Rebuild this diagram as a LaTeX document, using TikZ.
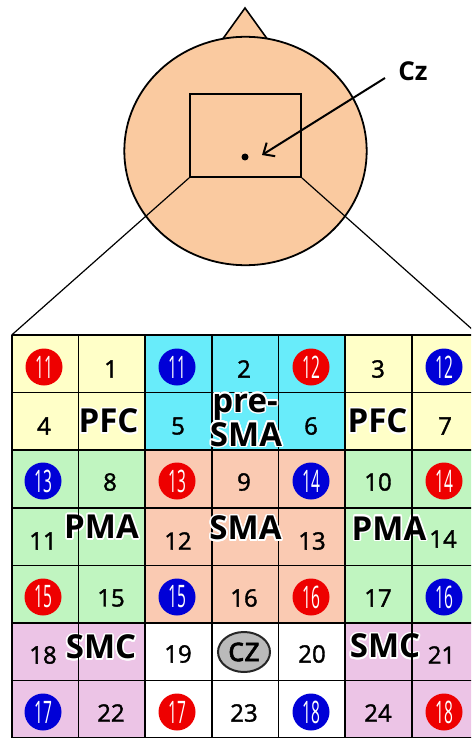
\documentclass[tikz,border=0pt]{standalone}
\usepackage{fontspec}
\setmainfont{Open Sans}
\newfontfamily\numfont{Open Sans}[FakeBold=1.6]
\usepackage{graphicx}
\usepackage{contour}
\contourlength{1.6pt}
\usetikzlibrary{arrows.meta,shapes.geometric}

\definecolor{skin}{RGB}{250,202,160}
\definecolor{topout}{RGB}{255,255,200}
\definecolor{topin}{RGB}{104,236,250}
\definecolor{midout}{RGB}{192,245,192}
\definecolor{midin}{RGB}{250,202,178}
\definecolor{botout}{RGB}{236,196,230}
\definecolor{botin}{RGB}{255,255,255}
\definecolor{elecred}{RGB}{238,0,0}
\definecolor{elecblue}{RGB}{0,0,215}

\tikzset{
  outline/.style={draw=black, line width=1.8pt},
  gridline/.style={draw=black, line width=1.7pt},
  zoomline/.style={draw=black, line width=1.2pt},
  num/.style={inner sep=0pt, font=\fontsize{24}{24}\numfont},
  region/.style={inner sep=0pt, font=\fontsize{33}{33}\selectfont\bfseries},
  bubble/.style={circle, minimum size=37pt, inner sep=0pt, text=white,
                 font=\fontsize{31}{31}\selectfont},
  redb/.style={bubble, fill=elecred},
  blueb/.style={bubble, fill=elecblue},
  czmark/.style={ellipse, minimum width=52pt, minimum height=40pt, inner sep=0pt,
                 fill=black!27, draw=black!85, line width=2pt,
                 font=\fontsize{34}{34}\numfont},
}
\newcommand{\narrow}[1]{\scalebox{0.5}[1]{#1}}
\newcommand{\halo}[1]{\contour{white}{#1}}

\begin{document}
\begin{tikzpicture}[x=1pt,y=-1pt]
\useasboundingbox (0,0) rectangle (471,738);
\clip (0,0) rectangle (471,738);

% ---- head seen from above ----
\path[fill=skin] (222,40) -- (245,8) -- (268,40) -- cycle;
\draw[line width=1.6pt] (222,40) -- (245,8) -- (268,40);
\draw[outline, fill=skin] (245.5,151) ellipse [x radius=121.2, y radius=114.2];
\node[outline, minimum width=111pt, minimum height=83pt, inner sep=0pt] (zone) at (245.5,135.5) {};
\node[circle, fill=black, minimum size=7pt, inner sep=0pt] (dot) at (245,157) {};
\node[inner sep=0pt, font=\fontsize{26}{26}\selectfont\bfseries] (czlabel) at (413,71) {Cz};
\coordinate (tail) at (385,78);
\coordinate (tip) at (262,155);
\draw[line width=2pt, -{Straight Barb[length=9pt, width=16pt, line width=2pt]}] (tail) -- (tip);

% ---- grid of electrode positions ----
\coordinate (gridNW) at (11.7,335);
\coordinate (gridNE) at (478.6,335);
\draw[zoomline] (zone.south west) -- (gridNW);
\draw[zoomline] (zone.south east) -- (gridNE);

\foreach \r in {1,...,7}{
  \foreach \c in {1,...,7}{
    \ifnum\r<3 \def\band{top}\else\ifnum\r<6 \def\band{mid}\else\def\band{bot}\fi\fi
    \ifnum\c>2 \ifnum\c<6 \def\side{in}\else\def\side{out}\fi\else\def\side{out}\fi
    \path[fill=\band\side] ({11.7+(\c-1)*66.7},{335+(\r-1)*57.6}) rectangle ({11.7+\c*66.7},{335+\r*57.6});
  }
}
\foreach \i in {0,...,7}{
  \draw[gridline] ({11.7+\i*66.7},335) -- ({11.7+\i*66.7},740);
  \draw[gridline] (11.7,{335+\i*57.6}) -- (480,{335+\i*57.6});
}

% row 1
\node[redb]  (b-r11) at (44,367)  {\narrow{11}};
\node[num]   (n1)    at (111,369) {1};
\node[blueb] (b-b11) at (177,367) {\narrow{11}};
\node[num]   (n2)    at (244,369) {2};
\node[redb]  (b-r12) at (311,367) {\narrow{12}};
\node[num]   (n3)    at (378,369) {3};
\node[blueb] (b-b12) at (444,367) {\narrow{12}};
% row 2
\node[num]   (n4)    at (44,426)  {4};
\node[num]   (n5)    at (178,426) {5};
\node[num]   (n6)    at (311,426) {6};
\node[num]   (n7)    at (445,426) {7};
% row 3
\node[blueb] (b-b13) at (43,481)  {\narrow{13}};
\node[num]   (n8)    at (110,482) {8};
\node[redb]  (b-r13) at (177,481) {\narrow{13}};
\node[num]   (n9)    at (244,482) {9};
\node[blueb] (b-b14) at (311,481) {\narrow{14}};
\node[num]   (n10)   at (378,482) {10};
\node[redb]  (b-r14) at (444,481) {\narrow{14}};
% row 4
\node[num]   (n11)   at (43,541)  {11};
\node[num]   (n12)   at (178,541) {12};
\node[num]   (n13)   at (312,541) {13};
\node[num]   (n14)   at (443,539) {14};
% row 5
\node[redb]  (b-r15) at (43,597)  {\narrow{15}};
\node[num]   (n15)   at (111,598) {15};
\node[blueb] (b-b15) at (177,597) {\narrow{15}};
\node[num]   (n16)   at (244,598) {16};
\node[redb]  (b-r16) at (311,597) {\narrow{16}};
\node[num]   (n17)   at (378,598) {17};
\node[blueb] (b-b16) at (444,597) {\narrow{16}};
% row 6
\node[num]   (n18)   at (43,655)  {18};
\node[num]   (n19)   at (178,654) {19};
\node[czmark] (czcell) at (244,652) {cz};
\node[num]   (n20)   at (312,654) {20};
\node[num]   (n21)   at (441.5,655) {21};
% row 7
\node[blueb] (b-b17) at (43,712)  {\narrow{17}};
\node[num]   (n22)   at (111,713) {22};
\node[redb]  (b-r17) at (177,712) {\narrow{17}};
\node[num]   (n23)   at (244,713) {23};
\node[blueb] (b-b18) at (311,712) {\narrow{18}};
\node[num]   (n24)   at (378,713) {24};
\node[redb]  (b-r18) at (444,712) {\narrow{18}};

% area names
\node[region] (pfc-l) at (108.5,422) {\halo{PFC}};
\node[region] (pfc-r) at (377.5,422) {\halo{PFC}};
\node[region, anchor=base] (presma-a) at (245,412) {\halo{pre-}};
\node[region, anchor=base] (presma-b) at (246,446) {\halo{SMA}};
\node[region] (pma-l) at (101.5,527.5) {\halo{PMA}};
\node[region] (sma)   at (245.5,529) {\halo{SMA}};
\node[region] (pma-r) at (389,529) {\halo{PMA}};
\node[region] (smc-l) at (101,648) {\halo{SMC}};
\node[region] (smc-r) at (385,647) {\halo{SMC}};

% the two outer column borders run over the area names
\draw[gridline] (78.4,335) -- (78.4,740);
\draw[gridline] (411.9,335) -- (411.9,740);
\end{tikzpicture}
\end{document}
